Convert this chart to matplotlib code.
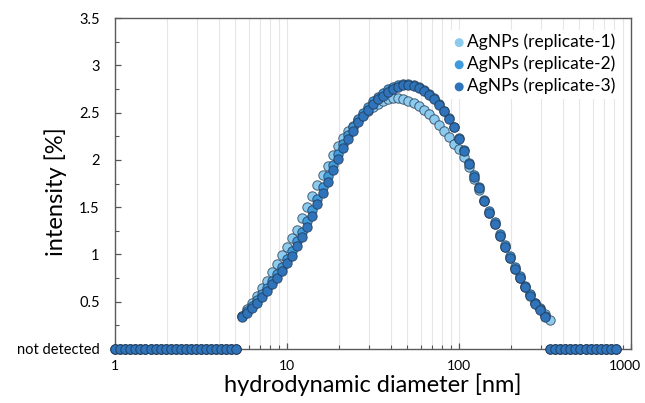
import matplotlib
matplotlib.use('Agg')
import matplotlib.pyplot as plt
from matplotlib.ticker import FixedLocator, FixedFormatter, NullFormatter, MultipleLocator
from matplotlib.transforms import ScaledTranslation

plt.rcParams['font.family'] = ['Lato', 'DejaVu Sans']

# ── DATA ──
# size bins [nm]
diameter_nm = [
    1.00, 1.07, 1.15, 1.23, 1.31, 1.40, 1.50, 1.61, 1.72, 1.84, 1.97, 2.11, 2.25, 2.41, 2.58, 2.76, 2.96,
    3.16, 3.38, 3.62, 3.87, 4.15, 4.44, 4.75, 5.08, 5.44, 5.82, 6.23, 6.66, 7.13, 7.63, 8.16, 8.73, 9.35,
    10.0, 10.7, 11.5, 12.3, 13.1, 14.0, 15.0, 16.1, 17.2, 18.4, 19.7, 21.1, 22.5, 24.1, 25.8, 27.6, 29.6,
    31.6, 33.8, 36.2, 38.7, 41.5, 44.4, 47.5, 50.8, 54.4, 58.2, 62.3, 66.6, 71.3, 76.3, 81.6, 87.3, 93.5,
    100, 107, 115, 123, 131, 140, 150, 161, 172, 184, 197, 211, 225, 241, 258, 276, 296,
    316, 338, 362, 387, 415, 444, 475, 508, 544, 582, 623, 666, 713, 763, 816,
]

# intensity [%], 0 = not detected
rep1_detected = [
    0.35, 0.42, 0.49, 0.56, 0.64, 0.72, 0.81, 0.90, 0.99, 1.08, 1.17, 1.26, 1.38, 1.50, 1.62, 1.73,
    1.84, 1.94, 2.05, 2.15, 2.23, 2.30, 2.36, 2.42, 2.47, 2.52, 2.56, 2.59, 2.62, 2.64, 2.65, 2.65,
    2.64, 2.62, 2.60, 2.57, 2.53, 2.48, 2.43, 2.37, 2.31, 2.24, 2.17, 2.11, 2.03, 1.92, 1.80, 1.68,
    1.56, 1.44, 1.32, 1.20, 1.08, 0.96, 0.85, 0.75, 0.66, 0.57, 0.49, 0.43, 0.37, 0.31,
]
rep2_detected = [
    0.35, 0.40, 0.45, 0.52, 0.58, 0.65, 0.72, 0.79, 0.87, 0.95, 1.04, 1.14, 1.24, 1.35, 1.47, 1.59,
    1.71, 1.83, 1.95, 2.06, 2.17, 2.26, 2.35, 2.43, 2.50, 2.56, 2.62, 2.67, 2.71, 2.75, 2.77, 2.79,
    2.80, 2.80, 2.79, 2.77, 2.74, 2.70, 2.65, 2.59, 2.52, 2.44, 2.35, 2.23, 2.10, 1.97, 1.84, 1.71,
    1.58, 1.46, 1.34, 1.22, 1.10, 0.98, 0.87, 0.77, 0.67, 0.58, 0.49, 0.42, 0.35,
]
rep3_detected = [
    0.34, 0.385, 0.43, 0.49, 0.553, 0.615, 0.686, 0.756, 0.829, 0.908, 0.988, 1.085, 1.18, 1.29, 1.41,
    1.53, 1.65, 1.77, 1.89, 2.01, 2.13, 2.22, 2.31, 2.40, 2.46, 2.53, 2.59, 2.64, 2.68, 2.72, 2.75,
    2.77, 2.79, 2.79, 2.78, 2.76, 2.73, 2.69, 2.64, 2.58, 2.52, 2.43, 2.35, 2.22, 2.09, 1.96, 1.82,
    1.70, 1.57, 1.44, 1.32, 1.20, 1.08, 0.96, 0.85, 0.75, 0.66, 0.56, 0.48, 0.41, 0.34,
]
rep1 = [0.0] * 25 + rep1_detected + [0.0] * 13
rep2 = [0.0] * 25 + rep2_detected + [0.0] * 14
rep3 = [0.0] * 25 + rep3_detected + [0.0] * 14

labels = ['AgNPs (replicate-1)', 'AgNPs (replicate-2)', 'AgNPs (replicate-3)']
colors = ['#8dcbee', '#3f9bdb', '#2f74bb']

# ── PLOT ──
fig = plt.figure(figsize=(6.45, 4.03), dpi=100)
ax = fig.add_axes([0.1783, 0.134, 0.8, 0.8213])

for y, c, lab in zip([rep1, rep2, rep3], colors, labels):
    ax.scatter(diameter_nm, y, s=46, color=c, edgecolors=(0.12, 0.2, 0.3, 0.75),
               linewidths=0.7, label=lab, zorder=3, clip_on=False)

ax.set_xscale('log')
ax.set_xlim(1, 1000)
ax.set_ylim(0, 3.5)

ax.xaxis.set_major_locator(FixedLocator([1, 10, 100, 1000]))
ax.xaxis.set_major_formatter(FixedFormatter(['1', '10', '100', '1000']))
ax.xaxis.set_minor_formatter(NullFormatter())
ax.yaxis.set_major_locator(FixedLocator([0, 0.5, 1, 1.5, 2, 2.5, 3, 3.5]))
ax.yaxis.set_major_formatter(FixedFormatter(['not detected', '0.5', '1', '1.5', '2', '2.5', '3', '3.5']))
ax.yaxis.set_minor_locator(MultipleLocator(0.25))

ax.grid(True, which='both', axis='x', color='#e6e6e6', linewidth=0.8, zorder=0)
ax.tick_params(which='both', direction='in', colors='#555555', labelcolor='black')
ax.tick_params(which='major', length=4, width=0.9)
ax.tick_params(which='minor', length=3, width=0.8)
ax.tick_params(axis='x', pad=8, labelsize=10)
ax.tick_params(axis='y', pad=11, labelsize=10.5)
for sp in ax.spines.values():
    sp.set_color('#5a5a5a')
    sp.set_linewidth(1.0)

# keep "1000" inside the canvas
last = ax.xaxis.get_major_ticks()[-1].label1
last.set_transform(last.get_transform() + ScaledTranslation(-0.06, 0, fig.dpi_scale_trans))

ax.set_xlabel('hydrodynamic diameter [nm]', fontsize=17, labelpad=1)
ax.set_ylabel('intensity [%]', fontsize=17)
ax.yaxis.set_label_coords(-0.093, 0.474)

leg = ax.legend(loc='upper right', fontsize=12.5, frameon=True, framealpha=1.0, edgecolor='white',
                handletextpad=0.0, borderaxespad=0.7, labelspacing=0.32, handlelength=0.9,
                markerscale=0.95, borderpad=0.2)
for h in leg.legend_handles:
    h.set_edgecolor('none')

plt.savefig('out.png', dpi=100)
plt.close()
